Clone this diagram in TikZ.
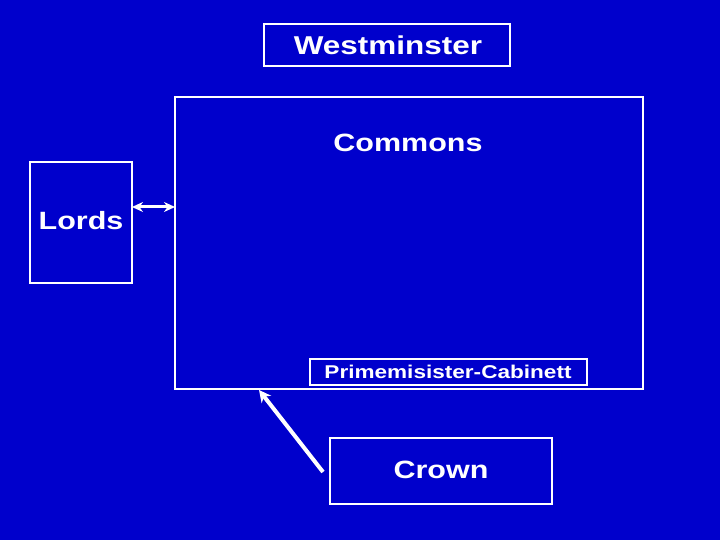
\documentclass[tikz,border=0pt]{standalone}
\usepackage{fontspec}
\setmainfont{Liberation Sans}
\usetikzlibrary{arrows.meta}
\definecolor{bg}{RGB}{0,0,204}
\newcommand{\wide}[1]{\scalebox{1.22}[1]{#1}}
\begin{document}
\begin{tikzpicture}[x=1pt,y=-1pt,
  box/.style={draw=white,line width=2.8pt},
  lbl/.style={text=white,font=\fontsize{25}{28}\selectfont\bfseries,inner sep=0pt},
  conn/.style={draw=white,line width=4pt}]
\fill[bg] (0,0) rectangle (720,540);
\useasboundingbox (0,0) rectangle (720,540);
\draw[box] (264,24) rectangle (510,66);
\node[lbl,font=\fontsize{25.8}{28}\selectfont\bfseries] (west) at (388,45) {\wide{Westminster}};
\draw[box] (175,97) rectangle (643,389);
\coordinate (commonsL) at (175,207);
\node[lbl] (commons) at (408,143) {\wide{Commons}};
\draw[box] (30,162) rectangle (132,283);
\coordinate (lordsR) at (132,207);
\node[lbl] (lords) at (81,221) {\wide{Lords}};
\draw[box] (310,359) rectangle (587,385);
\node[lbl,font=\fontsize{18.5}{20}\selectfont\bfseries] (pm) at (448,372) {\wide{Primemisister-Cabinett}};
\draw[box] (330,438) rectangle (552,504);
\node[lbl] (crown) at (441,470) {\wide{Crown}};
\draw[conn,line width=3pt,{Stealth[length=11pt,width=10pt]}-{Stealth[length=11pt,width=10pt]}] (lordsR) -- (commonsL);
\coordinate (cs) at (323,472);
\coordinate (ce) at (259,390);
\draw[conn,-{Stealth[length=12pt,width=12pt]}] (cs) -- (ce);
\end{tikzpicture}
\end{document}
